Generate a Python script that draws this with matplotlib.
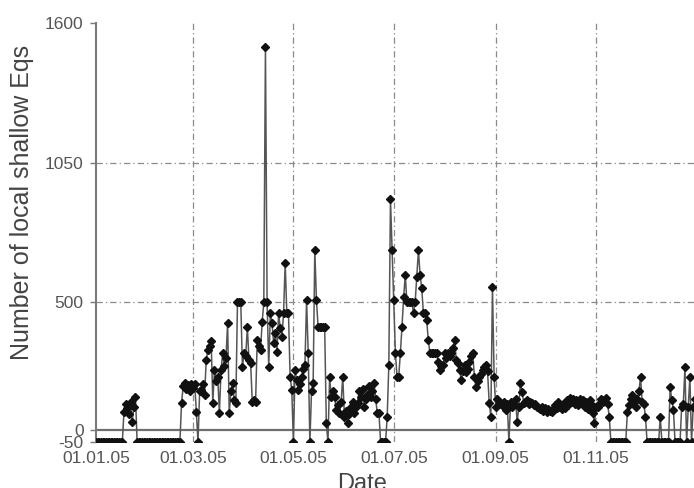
import matplotlib
matplotlib.use('Agg')
import matplotlib.pyplot as plt
import matplotlib.dates as mdates
import pandas as pd

plt.rcParams['font.family'] = ['Liberation Sans', 'DejaVu Sans']
plt.rcParams['axes.unicode_minus'] = False

# Daily counts of local shallow earthquakes, 2005 (-50 marks days without data)
jan = [-50] * 17 + [70, 100, 85, 60, 110, 30, 90, 130] + [-50] * 6
feb = [-50] * 21 + [105, 170, 185, 160, 175, 150, 180]
mar = [165, 180, 70, -50, 150, 155, 180, 135, 273, 313, 330, 350, 105, 234, 190,
       207, 65, 234, 300, 250, 280, 418, 65, 150, 183, 116, 105, 500, 500, 500, 246]
apr = [300, 290, 404, 273, 260, 108, 115, 108, 352, 330, 313, 422, 500, 1505, 500,
       246, 457, 418, 340, 378, 305, 457, 400, 365, 457, 654, 457, 457, 207, 155]
may = [-50, 234, 195, 155, 180, 207, 240, 254, 509, 300, -50, 150, 183, 706, 509,
       404, 404, 404, 404, 404, 26, -50, 207, 130, 150, 130, 77, 95, 65, 110, 207]
jun = [50, 75, 26, 60, 89, 110, 65, 90, 105, 150, 130, 160, 89, 120, 135,
       170, 130, 150, 183, 120, 65, 65, -50, -50, -50, -50, 50, 254, 905, 706]
jul = [509, 300, 207, 207, 300, 404, 520, 607, 500, 500, 500, 500, 457, 500, 600,
       706, 607, 557, 457, 457, 430, 352, 300, 300, 300, 300, 300, 265, 234, 250, 254]
aug = [300, 280, 300, 290, 300, 320, 352, 273, 260, 234, 195, 230, 254, 226, 240,
       265, 290, 300, 207, 167, 190, 207, 220, 234, 245, 254, 230, 105, 50, 561, 207]
sep = [89, 120, 100, 105, 95, 110, 77, 100, -50, 110, 89, 100, 120, 30, 89,
       183, 148, 105, 110, 115, 100, 110, 105, 95, 100, 90, 85, 80, 90, 75]
oct_ = [85, 70, 80, 75, 70, 80, 95, 85, 108, 90, 80, 100, 85, 115, 95, 123,
        110, 120, 100, 115, 95, 120, 105, 115, 90, 110, 80, 116, 100, 65, 26]
nov = [89, 89, 100, 120, 110, 116, 125, 100, 50] + [-50] * 10 + \
      [69, 97, 120, 135, 110, 89, 120, 150, 207, 108, 100]
dec = [50] + [-50] * 8 + [50] + [-50] * 5 + [167, 116, 77] + [-50] * 4 + \
      [89, 100, 246, -50, 89, 207, -50, 89, 120]

counts = jan + feb + mar + apr + may + jun + jul + aug + sep + oct_ + nov + dec
dates = pd.date_range('2005-01-01', periods=len(counts), freq='D')

tick_dates = pd.to_datetime(['2005-01-01', '2005-03-01', '2005-05-01',
                             '2005-07-01', '2005-09-01', '2005-11-01'])
y_ticks = [-50, 0, 500, 1050, 1600]

fig = plt.figure(figsize=(6.94, 4.88), dpi=100)
ax = fig.add_axes([96 / 694, 45.7 / 488, 598 / 694, 419.6 / 488])

grid_kw = dict(color='#8a8a8a', lw=0.9, ls=(0, (5, 2.5, 1, 2.5)), zorder=1)
for d in tick_dates[1:]:
    ax.axvline(d, **grid_kw)
for v in [500, 1050]:
    ax.axhline(v, **grid_kw)
ax.axhline(0, color='#6f6f6f', lw=1.6, zorder=1)

ax.plot(dates, counts, color='#555555', lw=1.1, zorder=2)
ax.plot(dates, counts, ls='none', marker='D', ms=3.6, color='#111111', zorder=3)

ax.set_xlim(pd.Timestamp('2005-01-01'), pd.Timestamp('2005-01-01') + pd.Timedelta(days=363.5))
ax.set_ylim(-50, 1600)
ax.set_yticks(y_ticks)
ax.set_xticks(tick_dates)
ax.xaxis.set_major_formatter(mdates.DateFormatter('%d.%m.%y'))

for side in ['top', 'right', 'bottom']:
    ax.spines[side].set_visible(False)
ax.spines['left'].set_color('#7a7a7a')
ax.spines['left'].set_linewidth(1.5)

ax.tick_params(axis='y', length=4, width=1, color='#7a7a7a', pad=5,
               labelsize=12.5, labelcolor='#555555')
ax.tick_params(axis='x', length=0, pad=6, labelsize=12.5, labelcolor='#555555')

fig.text(22 / 694, 1 - 202 / 488, 'Number of local shallow Eqs', rotation=90,
         ha='center', va='center', fontsize=18, color='#444444')
fig.text(362 / 694, -2 / 488, 'Date', ha='center', va='baseline',
         fontsize=17, color='#444444')

fig.savefig('out.png', dpi=100)
